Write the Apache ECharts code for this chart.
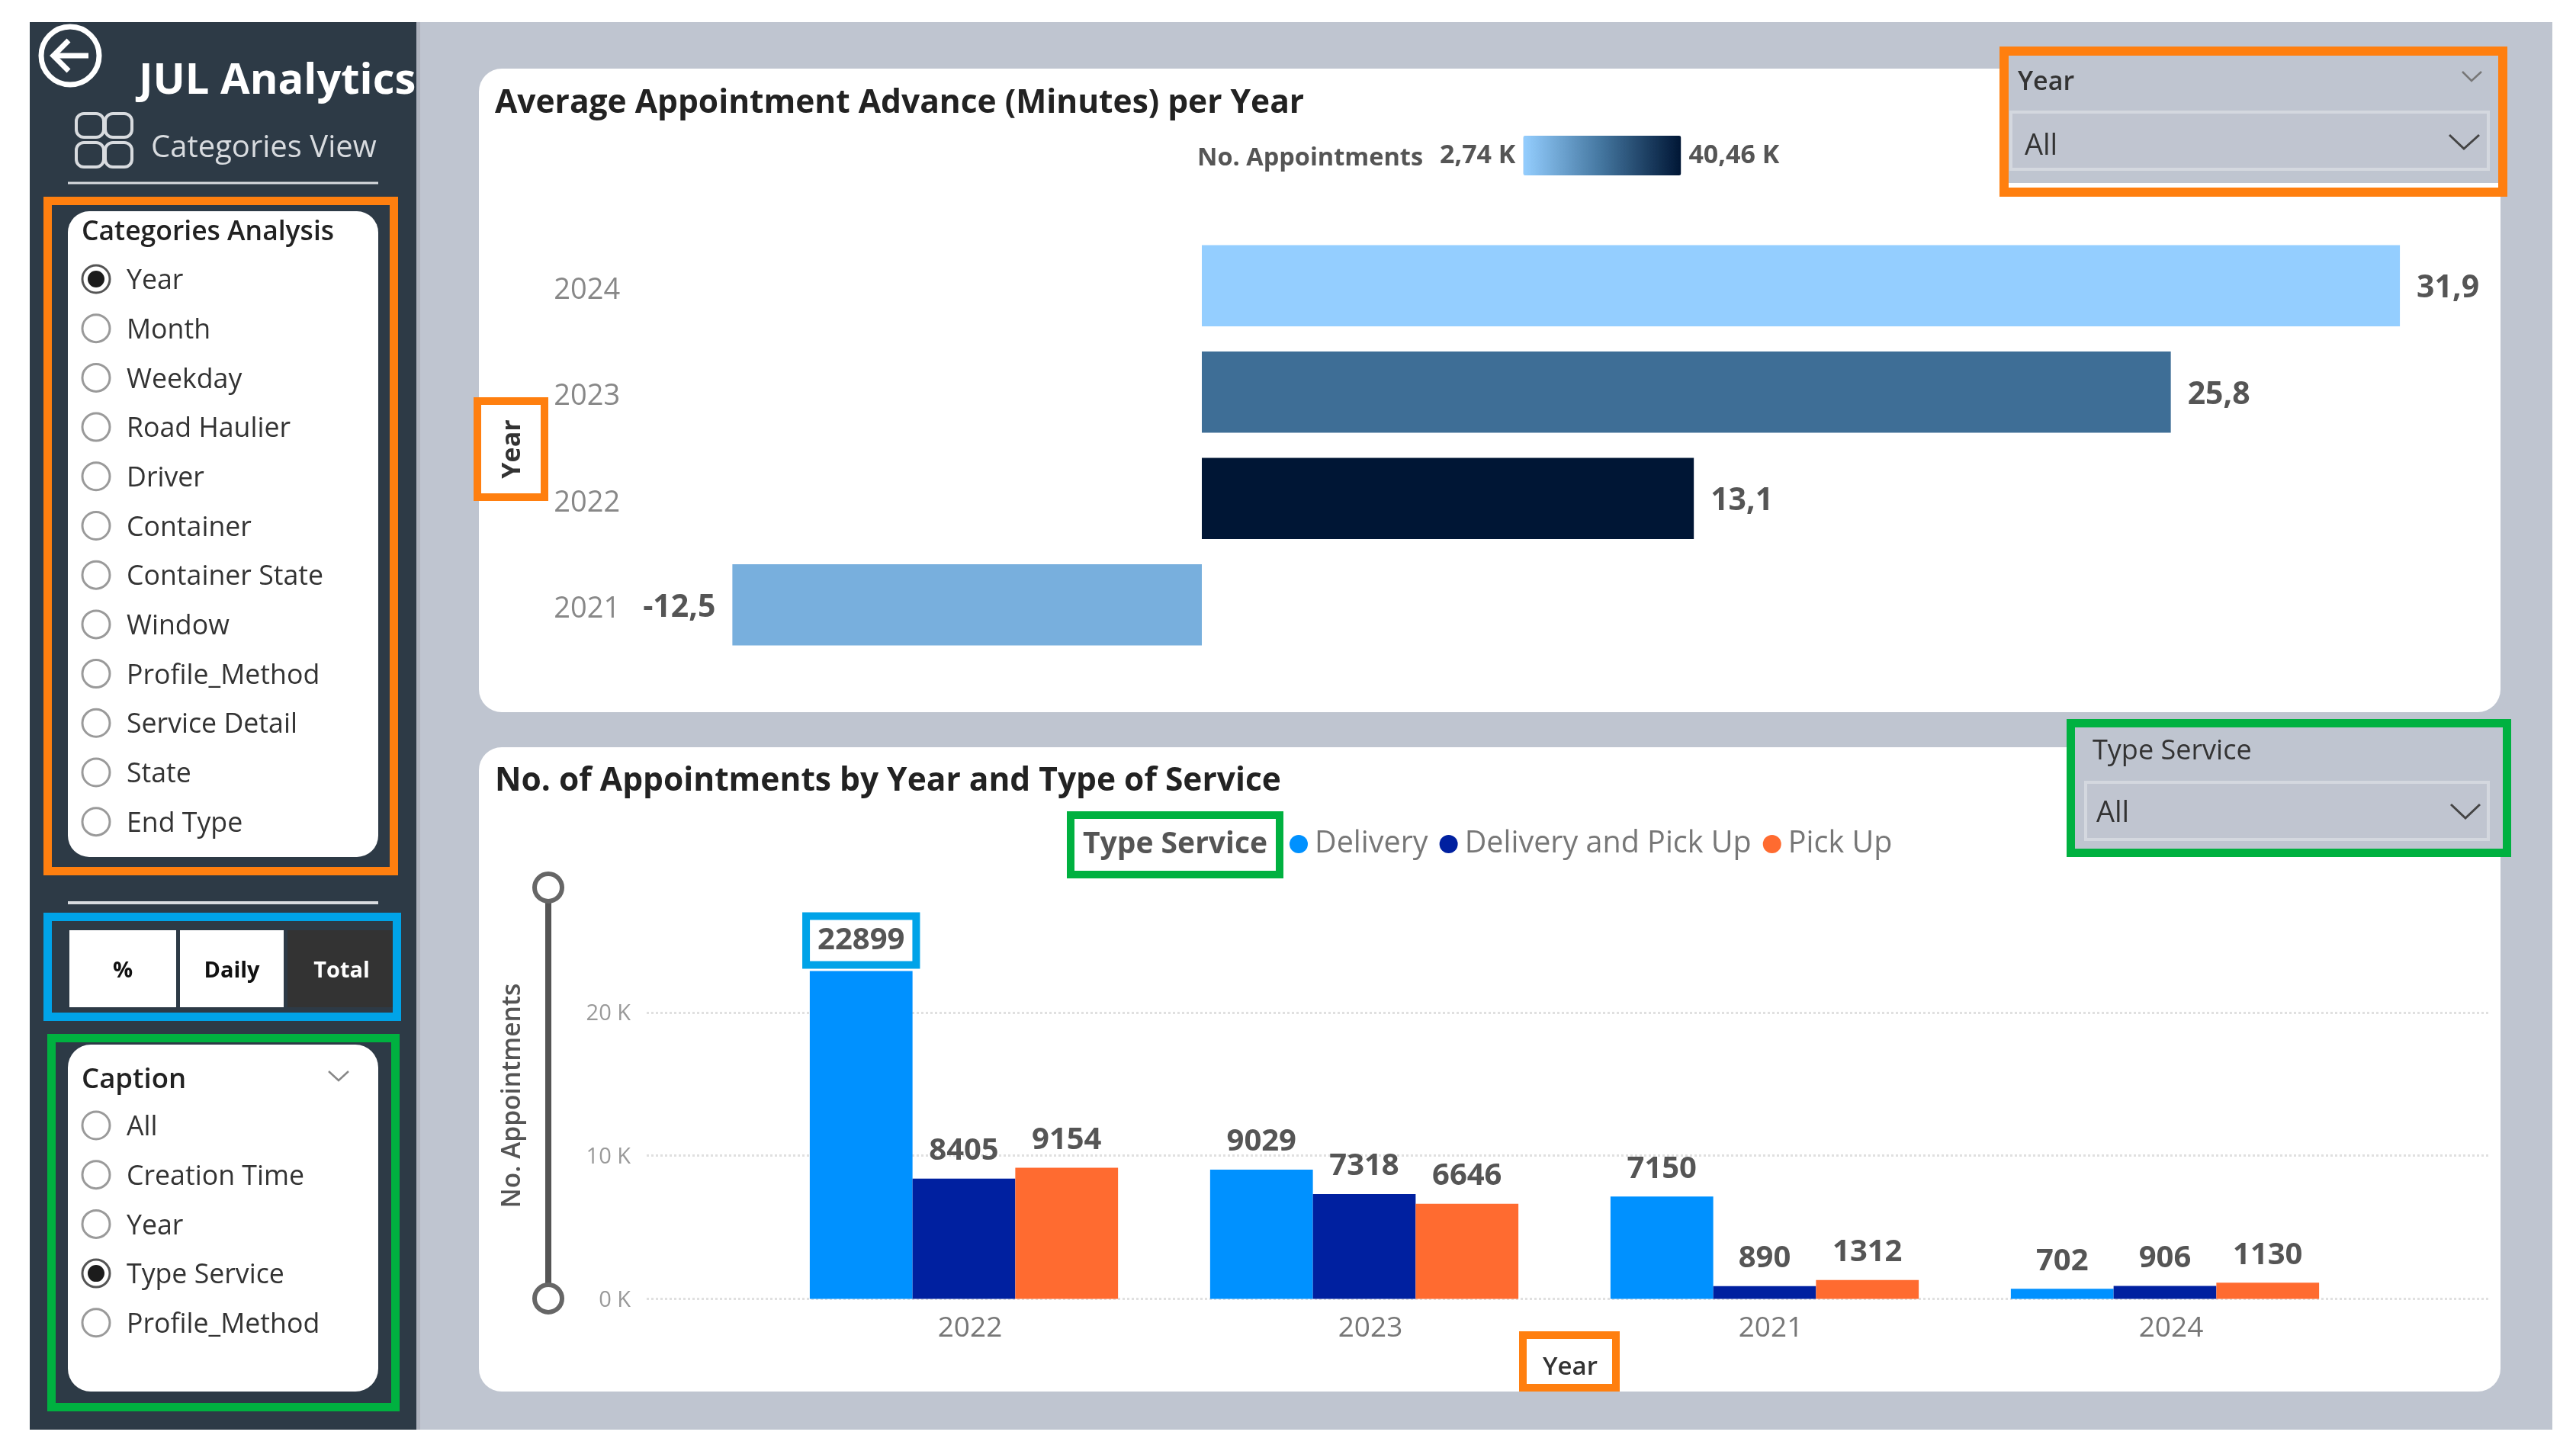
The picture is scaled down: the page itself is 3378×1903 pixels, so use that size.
<!DOCTYPE html>
<html>
<head>
<meta charset="utf-8">
<title>JUL Analytics</title>
<script src="https://cdn.jsdelivr.net/npm/echarts@6/dist/echarts.min.js"></script>
<style>
html, body { margin: 0; padding: 0; background: #fff; }
#main { width: 3378px; height: 1903px; }
</style>
</head>
<body>
<div id="main"></div>
<script type="text/javascript">
// slicer texts
var analysisItems = ['Year', 'Month', 'Weekday', 'Road Haulier', 'Driver', 'Container', 'Container State', 'Window', 'Profile_Method', 'Service Detail', 'State', 'End Type'];
var captionItems = ['All', 'Creation Time', 'Year', 'Type Service', 'Profile_Method'];
var modeButtons = ['%', 'Daily', 'Total'];

// top chart
var advanceYears = ['2024', '2023', '2022', '2021'];
var advanceValues = [31.9, 25.8, 13.1, -12.5];
var advanceTotals = [2738, 22993, 40458, 9352];
var totalRangeLabels = ['40,46 K', '2,74 K'];

// bottom chart
var serviceYears = ['2022', '2023', '2021', '2024'];
var deliveryValues = [22899, 9029, 7150, 702];
var deliveryPickUpValues = [8405, 7318, 890, 906];
var pickUpValues = [9154, 6646, 1312, 1130];

var FONT = '"Open Sans"';
var ORANGE = '#FF7F0F', BLUE = '#00A3E8', GREEN = '#00B140';
var PANEL_BG = '#BFC5D0', SIDE_BG = '#2D3A46';
var under = [], over = [];

function box(list, x0, y0, x1, y1, fill, r) {
	list.push({ type: 'rect', z: list === under ? -10 : 50, shape: { x: x0, y: y0, width: x1 - x0, height: y1 - y0, r: r || 0 }, style: { fill: fill } });
}
function frame(x0, y0, x1, y1, color, w) {
	over.push({ type: 'rect', z: 50, shape: { x: x0 + w / 2, y: y0 + w / 2, width: x1 - x0 - w, height: y1 - y0 - w }, style: { fill: 'none', stroke: color, lineWidth: w } });
}
function label(x, y, text, size, color, weight, extra) {
	var s = { text: text, fontSize: size, fontFamily: FONT, fontWeight: weight || 'normal', fill: color, textAlign: 'left', textVerticalAlign: 'middle' };
	// y + 3: Open Sans sits a little high against the reference
	var e = { type: 'text', z: 60, x: x, y: y + 3, style: s };
	if (extra && extra.align) s.textAlign = extra.align;
	if (extra && extra.rotation) e.rotation = extra.rotation;
	over.push(e);
}
function stroke(points, color, w) {
	over.push({ type: 'polyline', z: 55, shape: { points: points }, style: { stroke: color, lineWidth: w, fill: 'none' } });
}
function radio(x, y, checked) {
	over.push({ type: 'circle', z: 55, shape: { cx: x, cy: y, r: 18 }, style: { fill: '#fff', stroke: checked ? '#555' : '#9a9a9a', lineWidth: 3 } });
	if (checked) over.push({ type: 'circle', z: 56, shape: { cx: x, cy: y, r: 11 }, style: { fill: '#1c1c1c' } });
}

// page and panels
box(under, 39, 29, 3347, 1875, PANEL_BG);
box(under, 546, 29, 551, 1875, '#AEB3BE');
box(under, 628, 90, 3279, 934, '#fff', 30);
box(under, 628, 980, 3279, 1825, '#fff', 30);
box(under, 39, 29, 546, 1875, SIDE_BG);
box(under, 2622, 61, 3288, 240, PANEL_BG);
box(under, 2622, 240, 3288, 258, '#fff');
box(under, 2710, 943, 3293, 1124, PANEL_BG);

// sidebar header
over.push({ type: 'circle', z: 55, shape: { cx: 92, cy: 73, r: 38 }, style: { fill: 'none', stroke: '#fff', lineWidth: 7 } });
stroke([[116, 73], [70, 73]], '#fff', 7);
stroke([[90, 53], [70, 73], [90, 93]], '#fff', 7);
label(182, 104, 'JUL Analytics', 56, '#fff', 'bold');
[[100, 149, 36, 31], [138, 149, 35, 31], [100, 187, 36, 32], [138, 187, 35, 32]].forEach(function(c) {
	over.push({ type: 'rect', z: 55, shape: { x: c[0], y: c[1], width: c[2], height: c[3], r: 10 }, style: { fill: 'none', stroke: '#D8DBDF', lineWidth: 4 } });
});
label(198, 192, 'Categories View', 40, '#D8DBDF');
stroke([[89, 240], [496, 240]], '#D8DBDF', 3);

// categories slicer
box(under, 89, 277, 496, 1124, '#fff', 28);
frame(57, 258, 522, 1148, ORANGE, 11);
label(107, 302, 'Categories Analysis', 35.5, '#222', 600);
analysisItems.forEach(function(t, i) {
	var y = 366 + i * 64.7;
	radio(126, y, i === 0);
	label(166, y, t, 35.7, '#333');
});

// mode buttons
stroke([[89, 1184], [496, 1184]], '#D8DBDF', 4);
frame(57, 1197, 526, 1339, BLUE, 11);
box(under, 91, 1220, 231, 1321, '#fff');
box(under, 236, 1220, 372, 1321, '#fff');
box(under, 377, 1220, 515, 1321, '#333');
var buttonCenters = [161, 304, 448];
modeButtons.forEach(function(t, i) {
	label(buttonCenters[i], 1271, t, 29, i === 2 ? '#fff' : '#111', 'bold', { align: 'center' });
});

// caption slicer
box(under, 89, 1370, 496, 1825, '#fff', 30);
frame(62, 1356, 524, 1851, GREEN, 11);
label(107, 1414, 'Caption', 36.5, '#222', 600);
stroke([[431, 1405], [444, 1417], [457, 1405]], '#888', 2.5);
captionItems.forEach(function(t, i) {
	var y = 1476 + i * 64.7;
	radio(126, y, i === 3);
	label(166, y, t, 35.7, '#333');
});

// year slicer, top right
frame(2622, 61, 3288, 258, ORANGE, 12);
label(2646, 105, 'Year', 34, '#333', 600);
stroke([[3229, 94], [3241, 106], [3254, 94]], '#777', 2.5);
over.push({ type: 'rect', z: 55, shape: { x: 2637, y: 147, width: 626, height: 75 }, style: { fill: '#C0C5D0', stroke: '#D4D8DF', lineWidth: 4 } });
label(2655, 189, 'All', 38, '#333');
stroke([[3212, 177], [3231, 195], [3251, 177]], '#444', 3);

// type service slicer, right
frame(2710, 943, 3293, 1124, GREEN, 11);
label(2744, 983, 'Type Service', 36, '#333');
over.push({ type: 'rect', z: 55, shape: { x: 2735, y: 1026, width: 528, height: 75 }, style: { fill: '#C0C5D0', stroke: '#D4D8DF', lineWidth: 4 } });
label(2749, 1064, 'All', 38, '#333');
stroke([[3214, 1055], [3233, 1073], [3252, 1055]], '#444', 3);

// chart titles and callouts
label(649, 133, 'Average Appointment Advance (Minutes) per Year', 42.5, '#222', 'bold');
label(1570, 205, 'No. Appointments', 32.5, '#555', 'bold');
label(649, 1022, 'No. of Appointments by Year and Type of Service', 42.5, '#222', 'bold');

box(over, 621, 521, 719, 657, '#fff');
frame(621, 521, 719, 657, ORANGE, 10);
label(672, 586, 'Year', 34, '#333', 'bold', { align: 'center', rotation: Math.PI / 2 });

box(over, 1399, 1064, 1683, 1152, '#fff');
frame(1399, 1064, 1683, 1152, GREEN, 10);
label(1541, 1105, 'Type Service', 39, '#555', 'bold', { align: 'center' });

box(over, 1992, 1746, 2124, 1825, '#fff');
frame(1992, 1746, 2124, 1825, ORANGE, 10);
label(2059, 1791, 'Year', 33, '#333', 600, { align: 'center' });

// y axis slider and its title
stroke([[719, 1164], [719, 1703]], '#555', 8);
[1164, 1703].forEach(function(y) {
	over.push({ type: 'circle', z: 56, shape: { cx: 719, cy: y, r: 18 }, style: { fill: '#fff', stroke: '#666', lineWidth: 6 } });
});
label(672, 1434, 'No. Appointments', 33.5, '#555', 600, { align: 'center', rotation: Math.PI / 2 });

var advanceData = advanceValues.map(function(v, i) {
	return { value: [v, advanceYears[i], advanceTotals[i]], label: { position: v < 0 ? 'left' : 'right' } };
});

function countLabel(size) {
	return { show: true, position: 'top', distance: 16, fontFamily: FONT, fontWeight: 'bold', fontSize: size, color: '#555' };
}
var deliveryData = deliveryValues.map(function(v, i) {
	if (i > 0) return v;
	// largest bar carries the blue callout
	return { value: v, label: { backgroundColor: '#fff', borderColor: BLUE, borderWidth: 10, padding: [7, 10], distance: 13 } };
});

function barSeries(name, data, color) {
	return {
		name: name, type: 'bar', xAxisIndex: 2, yAxisIndex: 2,
		data: data, barGap: 0, barCategoryGap: '23%',
		itemStyle: { color: color }, label: countLabel(40)
	};
}

var myChart = echarts.init(document.getElementById('main'));
myChart.setOption({
	animation: false,
	graphic: { elements: under.concat(over) },
	grid: [
		{ left: 837.25, top: 305, width: 2364, height: 558 },
		{ left: 848, top: 1234, width: 2415, height: 469.5 },
		{ left: 1001.5, top: 1234, width: 2100, height: 469.5 }
	],
	xAxis: [
		{ gridIndex: 0, type: 'value', min: -15, max: 33, show: false },
		{ gridIndex: 1, type: 'value', min: 0, max: 1, show: false },
		{
			gridIndex: 2, type: 'category', data: serviceYears,
			axisLine: { show: false }, axisTick: { show: false },
			axisLabel: { fontFamily: FONT, fontSize: 37, color: '#777', margin: 20, padding: [0, 0, 0, 16] }
		}
	],
	yAxis: [
		{
			gridIndex: 0, type: 'category', inverse: true, data: advanceYears,
			axisLine: { show: false }, axisTick: { show: false },
			// top aligned with a short line box nudges the text below the tick
			axisLabel: { fontFamily: FONT, fontSize: 38, color: '#888', margin: 24, verticalAlign: 'top', lineHeight: 12 }
		},
		{
			gridIndex: 1, type: 'value', min: 0, max: 25000, interval: 10000,
			axisLine: { show: false }, axisTick: { show: false },
			axisLabel: {
				fontFamily: FONT, fontSize: 29, color: '#999', margin: 21, showMaxLabel: false, verticalAlign: 'top', lineHeight: 4,
				formatter: function(v) { return v / 1000 + ' K'; }
			},
			splitLine: { show: true, showMaxLine: false, lineStyle: { type: 'dotted', color: '#E0E0E0', width: 3 } }
		},
		{ gridIndex: 2, type: 'value', min: 0, max: 25000, show: false, splitLine: { show: false } }
	],
	visualMap: {
		type: 'continuous', seriesIndex: 0, dimension: 2,
		min: 2738, max: 40458, calculable: false, hoverLink: false,
		orient: 'horizontal', left: 1888, top: 178, padding: 0,
		itemWidth: 52, itemHeight: 207, itemGap: 8,
		text: totalRangeLabels,
		textStyle: { fontFamily: FONT, fontWeight: 'bold', fontSize: 34, color: '#555' },
		inRange: { color: ['#94CEFF', '#43759E', '#001635'] }
	},
	legend: {
		left: 1691, top: 1087, padding: 0, icon: 'circle',
		itemWidth: 32, itemHeight: 24, itemGap: 15,
		textStyle: { fontFamily: FONT, fontSize: 39.5, color: '#777' },
		selectedMode: false,
		data: ['Delivery', 'Delivery and Pick Up', 'Pick Up']
	},
	series: [
		{
			type: 'bar', xAxisIndex: 0, yAxisIndex: 0,
			encode: { x: 0, y: 1 }, data: advanceData, barCategoryGap: '23.6%',
			label: {
				show: true, distance: 22, offset: [0, 4], fontFamily: FONT, fontWeight: 'bold', fontSize: 41, color: '#555',
				formatter: function(p) { return String(p.value[0]).replace('.', ','); }
			}
		},
		barSeries('Delivery', deliveryData, '#0091FF'),
		barSeries('Delivery and Pick Up', deliveryPickUpValues, '#0020A0'),
		barSeries('Pick Up', pickUpValues, '#FF6B30')
	]
});
</script>
</body>
</html>
